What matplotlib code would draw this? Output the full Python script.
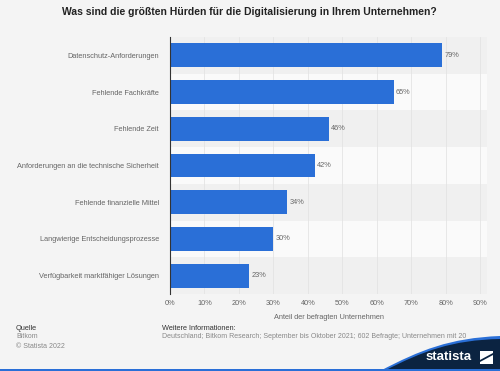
import matplotlib.pyplot as plt
from matplotlib.path import Path
from matplotlib.patches import PathPatch, Polygon

plt.rcParams['font.family'] = ['Liberation Sans', 'DejaVu Sans']

# Daten
kategorien = [
    'Datenschutz-Anforderungen',
    'Fehlende Fachkräfte',
    'Fehlende Zeit',
    'Anforderungen an die technische Sicherheit',
    'Fehlende finanzielle Mittel',
    'Langwierige Entscheidungsprozesse',
    'Verfügbarkeit marktfähiger Lösungen',
]
werte = [79, 65, 46, 42, 34, 30, 23]
x_ticks = [0, 10, 20, 30, 40, 50, 60, 70, 80, 90]

hintergrund = '#f4f4f4'
blau = '#2a6fd7'
grau_text = '#666666'

fig = plt.figure(figsize=(5, 3.71), dpi=100, facecolor=hintergrund)
ax = fig.add_axes([0.34, 0.2075, 0.634, 0.6927])
ax.set_facecolor(hintergrund)

n = len(kategorien)
pos = list(range(n))

# abwechselnde Zeilenstreifen
for i in pos:
    farbe = '#f0f0f0' if i % 2 == 0 else '#fafafa'
    ax.axhspan(i - 0.5, i + 0.5, color=farbe, zorder=0, lw=0)

for t in x_ticks[1:]:
    ax.axvline(t, color='#e4e4e4', lw=0.6, zorder=1)

ax.barh(pos, werte, height=0.65, color=blau, zorder=2)
for p, w in zip(pos, werte):
    ax.text(w + 0.6, p, f'{w}%', va='center', ha='left', fontsize=5.3, color=grau_text)

ax.set_ylim(n - 0.5, -0.5)
ax.set_xlim(0, 92)
ax.set_yticks(pos)
ax.set_yticklabels(kategorien, fontsize=5.3, color=grau_text)
ax.set_xticks(x_ticks)
ax.set_xticklabels([f'{t}%' for t in x_ticks], fontsize=5.3, color=grau_text)
ax.tick_params(length=0, pad=8)
ax.tick_params(axis='x', pad=4)
for s in ['top', 'right', 'bottom']:
    ax.spines[s].set_visible(False)
ax.spines['left'].set_color('#333333')
ax.spines['left'].set_linewidth(0.8)
ax.set_xlabel('Anteil der befragten Unternehmen', fontsize=5.3, color=grau_text, labelpad=5)

fig.text(0.498, 0.968, 'Was sind die größten Hürden für die Digitalisierung in Ihrem Unternehmen?',
         ha='center', va='center', fontsize=7.5, fontweight='bold', color='#222222')

# Fußzeile
fig.text(16 / 500, 1 - 329 / 371, 'Quelle', fontsize=5.3, color='#333333', va='center')
fig.text(16 / 500, 1 - 337 / 371, 'Bitkom', fontsize=5.0, color='#888888', va='center')
fig.text(16 / 500, 1 - 346 / 371, '© Statista 2022', fontsize=5.0, color='#888888', va='center')
fig.text(162 / 500, 1 - 329 / 371, 'Weitere Informationen:', fontsize=5.3, color='#333333', va='center')
fig.text(162 / 500, 1 - 337 / 371,
         'Deutschland; Bitkom Research; September bis Oktober 2021; 602 Befragte; Unternehmen mit 20',
         fontsize=5.0, color='#888888', va='center')

# Logo-Bogen
def fx(x):
    return x / 500

def fy(y):
    return 1 - y / 371

verts = [(fx(380), fy(371)), (fx(420), fy(350)), (fx(450), fy(338)), (fx(500), fy(336)),
         (fx(500), fy(371)), (fx(380), fy(371))]
codes = [Path.MOVETO, Path.CURVE4, Path.CURVE4, Path.CURVE4, Path.LINETO, Path.CLOSEPOLY]
rand = PathPatch(Path(verts, codes), transform=fig.transFigure, facecolor='#2a6fd7', lw=0, zorder=5)
fig.patches.append(rand)
verts2 = [(fx(384), fy(371)), (fx(423), fy(351)), (fx(452), fy(340)), (fx(500), fy(339)),
          (fx(500), fy(371)), (fx(384), fy(371))]
logo = PathPatch(Path(verts2, codes), transform=fig.transFigure, facecolor='#0b2341', lw=0, zorder=6)
fig.patches.append(logo)
fig.text(fx(449), fy(357), 'statista', fontsize=9.5, fontweight='bold', color='white',
         ha='center', va='center', zorder=7)
icon = Polygon([(fx(480), fy(364)), (fx(493), fy(364)), (fx(493), fy(351)), (fx(480), fy(351))],
               closed=True, transform=fig.transFigure, facecolor='white', lw=0, zorder=7)
fig.patches.append(icon)
icon_cut = Polygon([(fx(480), fy(360)), (fx(493), fy(353)), (fx(493), fy(355)), (fx(480), fy(362))],
                   closed=True, transform=fig.transFigure, facecolor='#0b2341', lw=0, zorder=8)
fig.patches.append(icon_cut)
unten = Polygon([(0, 0), (1, 0), (1, fy(369)), (0, fy(369))], closed=True,
                transform=fig.transFigure, facecolor='#2a6fd7', lw=0, zorder=9)
fig.patches.append(unten)

fig.savefig('out.png', dpi=100, facecolor=hintergrund)
